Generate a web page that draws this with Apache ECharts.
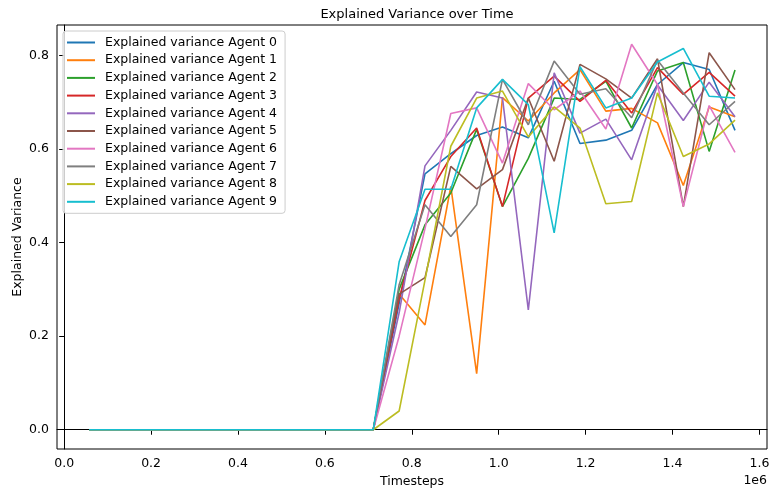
<!DOCTYPE html>
<html>
<head>
<meta charset="utf-8">
<script src="https://cdn.jsdelivr.net/npm/echarts@6/dist/echarts.min.js"></script>
<style>html,body{margin:0;padding:0;background:#fff;}#c{width:772px;height:490px;}</style>
</head>
<body>
<div id="c"></div>
<script>
const timesteps = [57400,116900,176300,235800,295200,354700,414200,473600,533100,592500,652000,711400,770900,830400,889800,949300,1008700,1068200,1127700,1187100,1246600,1306000,1365500,1424900,1484400,1543900];
const agent0 = [0,0,0,0,0,0,0,0,0,0,0,0, 0.27,0.547,0.59,0.629,0.647,0.624,0.745,0.612,0.619,0.640,0.738,0.785,0.770,0.640];
const agent1 = [0,0,0,0,0,0,0,0,0,0,0,0, 0.29,0.224,0.52,0.12,0.71,0.66,0.72,0.77,0.681,0.687,0.656,0.522,0.69,0.669];
const agent2 = [0,0,0,0,0,0,0,0,0,0,0,0, 0.30,0.438,0.506,0.642,0.477,0.58,0.709,0.706,0.745,0.645,0.767,0.785,0.595,0.769];
const agent3 = [0,0,0,0,0,0,0,0,0,0,0,0, 0.28,0.49,0.584,0.645,0.477,0.709,0.756,0.702,0.747,0.677,0.774,0.717,0.764,0.713];
const agent4 = [0,0,0,0,0,0,0,0,0,0,0,0, 0.25,0.564,0.64,0.722,0.709,0.256,0.763,0.634,0.664,0.577,0.737,0.661,0.743,0.669];
const agent5 = [0,0,0,0,0,0,0,0,0,0,0,0, 0.29,0.325,0.563,0.515,0.556,0.709,0.574,0.781,0.750,0.709,0.793,0.477,0.806,0.727];
const agent6 = [0,0,0,0,0,0,0,0,0,0,0,0, 0.20,0.43,0.676,0.688,0.570,0.740,0.684,0.724,0.643,0.824,0.738,0.477,0.693,0.593];
const agent7 = [0,0,0,0,0,0,0,0,0,0,0,0, 0.31,0.481,0.413,0.481,0.749,0.652,0.788,0.717,0.729,0.667,0.790,0.720,0.652,0.702];
const agent8 = [0,0,0,0,0,0,0,0,0,0,0,0, 0.04,0.32,0.606,0.709,0.724,0.626,0.690,0.645,0.483,0.488,0.720,0.584,0.611,0.662];
const agent9 = [0,0,0,0,0,0,0,0,0,0,0,0, 0.359,0.514,0.514,0.688,0.749,0.695,0.421,0.776,0.688,0.709,0.786,0.815,0.713,0.709];
const seriesNames = ['Explained variance Agent 0','Explained variance Agent 1','Explained variance Agent 2','Explained variance Agent 3','Explained variance Agent 4','Explained variance Agent 5','Explained variance Agent 6','Explained variance Agent 7','Explained variance Agent 8','Explained variance Agent 9'];
const xTicks = [0,200000,400000,600000,800000,1000000,1200000,1400000,1600000];
const yTicks = [0,0.2,0.4,0.6,0.8];

const colors = ['#1f77b4','#ff7f0e','#2ca02c','#d62728','#9467bd','#8c564b','#e377c2','#7f7f7f','#bcbd22','#17becf'];
const all = [agent0,agent1,agent2,agent3,agent4,agent5,agent6,agent7,agent8,agent9];
const FONT = 'DejaVu Sans';

const chart = echarts.init(document.getElementById('c'), null, {renderer:'canvas'});
chart.setOption({
  animation: false,
  color: colors,
  textStyle: {fontFamily: FONT},
  title: {
    text: 'Explained Variance over Time',
    left: 412, top: 3, textAlign: 'center',
    textStyle: {fontFamily: FONT, fontSize: 13, fontWeight: 'normal', color: '#000'}
  },
  legend: {
    orient: 'vertical', left: 63, top: 31,
    padding: [5, 8, 5, 4],
    itemWidth: 28, itemHeight: 14, itemGap: 4.7,
    icon: 'path://M0,0h28v2h-28z',
    backgroundColor: 'rgba(255,255,255,0.8)',
    borderColor: '#cccccc', borderWidth: 1, borderRadius: 3,
    textStyle: {fontFamily: FONT, fontSize: 12.5, color: '#000', padding: [0,0,0,5]},
    data: seriesNames
  },
  grid: {left: 57, right: 5, top: 25, bottom: 41, show: true, borderColor: '#000', borderWidth: 1,
    containLabel: false, outerBoundsMode: 'none'},
  xAxis: {
    type: 'value', min: -16500, max: 1617500,
    name: 'Timesteps', nameLocation: 'middle', nameGap: 26, nameMoveOverlap: false,
    nameTextStyle: {fontFamily: FONT, fontSize: 12.5, color: '#000'},
    axisLine: {show: true, lineStyle: {color: '#000', width: 1}},
    axisTick: {show: true, inside: false, length: 5, lineStyle: {color: '#000'}, customValues: xTicks},
    axisLabel: {color: '#000', fontFamily: FONT, fontSize: 12.5, margin: 8, customValues: xTicks,
      formatter: v => (v/1e6).toFixed(1)},
    splitLine: {show: false}
  },
  yAxis: {
    type: 'value', min: -0.0412, max: 0.8652,
    name: 'Explained Variance', nameLocation: 'middle', nameGap: 33, nameRotate: 90, nameMoveOverlap: false,
    nameTextStyle: {fontFamily: FONT, fontSize: 12.5, color: '#000'},
    axisLine: {show: true, lineStyle: {color: '#000', width: 1}},
    axisTick: {show: true, inside: false, length: 5, lineStyle: {color: '#000'}, customValues: yTicks},
    axisLabel: {color: '#000', fontFamily: FONT, fontSize: 12.5, margin: 8, customValues: yTicks,
      formatter: v => v.toFixed(1)},
    splitLine: {show: false}
  },
  graphic: [{
    type: 'text', right: 5, top: 474,
    style: {text: '1e6', fontFamily: FONT, fontSize: 12.5, fill: '#000'}
  }],
  series: all.map((arr, i) => ({
    name: seriesNames[i],
    type: 'line',
    symbol: 'none',
    showSymbol: false,
    lineStyle: {width: 1.6, color: colors[i]},
    itemStyle: {color: colors[i]},
    data: timesteps.map((t, j) => [t, arr[j]])
  }))
});
</script>
</body>
</html>
